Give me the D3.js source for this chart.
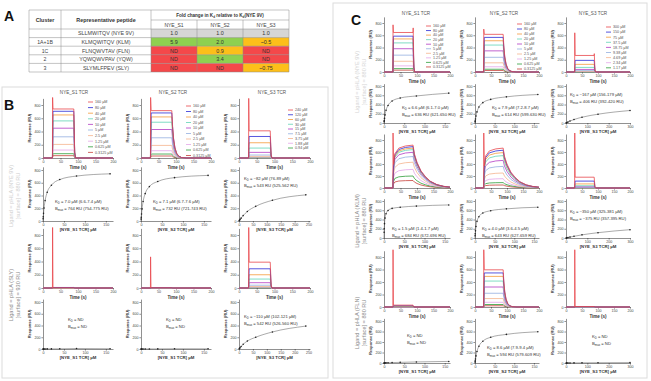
<!DOCTYPE html>
<html><head><meta charset="utf-8">
<script src="https://cdn.jsdelivr.net/npm/d3@7"></script>
<style>body{margin:0;background:#fff}svg{display:block;font-family:"Liberation Sans",Arial,sans-serif}</style>
</head><body><svg id="c" width="651" height="381"></svg>
<script>
// ---------- DATA ----------
// Table (panel A)
const tcrNames = ["NYE_S1", "NYE_S2", "NYE_S3"];
const clusters = ["", "1A+1B", "1C", "2", "3"];
const peptides = ["SLLMWITQV (NYE 9V)", "KLMQWITQV (KLM)", "FLNQWVTAV (FLN)", "YQWQWVPAV (YQW)", "SLYMLFPEV (SLY)"];
const foldS1 = ["1.0", "5.9", "ND", "ND", "ND"];
const foldS2 = ["1.0", "2.0", "0.9", "3.4", "ND"];
const foldS3 = ["1.0", "~0.5", "ND", "ND", "~0.75"];

// Concentrations
const concS12 = [160, 80, 40, 20, 10, 5, 2.5, 1.25, 0.625, 0.3125];
const concS12Labels = ["160 µM", "80 µM", "40 µM", "20 µM", "10 µM", "5 µM", "2.5 µM", "1.25 µM", "0.625 µM", "0.3125 µM"];
const concS3B = [240, 120, 60, 30, 15, 7.5, 3.75, 1.88, 0.94];
const concS3BLabels = ["240 µM", "120 µM", "60 µM", "30 µM", "15 µM", "7.5 µM", "3.75 µM", "1.88 µM", "0.94 µM"];
const concS3C = [300, 150, 75, 37.5, 18.75, 9.38, 4.69, 2.34, 1.17];
const concS3CLabels = ["300 µM", "150 µM", "75 µM", "37.5 µM", "18.75 µM", "9.38 µM", "4.69 µM", "2.34 µM", "1.17 µM"];

const bNyeS1 = [740, 705, 650, 560, 450, 320, 205, 120, 65, 35];
const bNyeS2 = [715, 680, 620, 540, 430, 305, 190, 110, 60, 30];
const bNyeS3 = [410, 325, 230, 150, 85, 45, 25, 12, 6];
const bSlyS1 = [4, 8, 3, 2, 2, 1, 1, 0, 0, 0];
const bSlyS2 = [3, 4, 2, 1, 1, 0, 0, 0, 0, 0];
const bSlyS3 = [390, 290, 200, 135, 80, 42, 22, 11, 5];
const cNyeS1 = [645, 585, 540, 475, 380, 275, 175, 100, 55, 30];
const cNyeS2 = [615, 565, 510, 440, 345, 240, 150, 85, 45, 25];
const cNyeS3 = [270, 190, 125, 75, 42, 22, 11, 6, 3];
const cKlmS1 = [715, 690, 665, 640, 595, 525, 430, 310, 200, 125];
const cKlmS2 = [665, 630, 590, 540, 460, 360, 250, 155, 90, 50];
const cKlmS3 = [180, 115, 68, 37, 20, 10, 5, 3, 1];
const cFlnS1 = [30, 20, 12, 8, 5, 3, 2, 1, 0, 0];
const cFlnS2 = [595, 545, 490, 415, 320, 220, 135, 75, 40, 20];
const cFlnS3 = [8, 5, 3, 2, 1, 1, 0, 0, 0];

// Sensorgram time profiles (fraction of plateau)
const fastT = [0, 27, 28.5, 88, 90.5, 93, 200];
const fastF = [0, 0, 1, 1, 0.12, 0, 0];
const medT = [0, 27, 29, 88, 90, 93, 97, 102, 108, 116, 130, 200];
const medF = [0, 0, 1, 1, 0.7, 0.42, 0.22, 0.1, 0.04, 0.01, 0, 0];
const slowT = [0, 27, 29, 33, 45, 65, 88, 92, 100, 112, 125, 140, 160, 180, 200];
const slowF = [0, 0, 0.55, 0.8, 0.93, 0.98, 1, 0.8, 0.6, 0.4, 0.27, 0.16, 0.08, 0.04, 0.02];

// Fit results
const kdB = ["7.0 µM (6.6-7.4 µM)", "7.1 µM (6.7-7.6 µM)", "~82 µM (76-89 µM)", "ND", "ND", "~110 µM (102-121 µM)"];
const bmaxB = ["764 RU (754-775 RU)", "732 RU (721-743 RU)", "543 RU (525-562 RU)", "ND", "ND", "542 RU (526-560 RU)"];
const kdC = ["6.6 µM (6.1-7.0 µM)", "7.9 µM (7.2-8.7 µM)", "~167 µM (156-179 µM)", "1.5 µM (1.4-1.7 µM)", "4.0 µM (3.6-4.5 µM)", "~350 µM (325-381 µM)", "ND", "8.6 µM (7.9-9.4 µM)", "ND"];
const bmaxC = ["636 RU (621-650 RU)", "614 RU (599-630 RU)", "406 RU (392-420 RU)", "684 RU (672-696 RU)", "643 RU (627-659 RU)", "~375 RU (357-395 RU)", "ND", "594 RU (579-609 RU)", "ND"];

const seriesColors = ["#e8474c", "#2b2bd6", "#f59a3a", "#5fd3b5", "#b23bc4", "#93aee0", "#f5b48e", "#e3a6e8", "#2e9e3a", "#c8413a"];

// ---------- DRAW ----------
const svg = d3.select('#c');
const profs = {fast: [fastT, fastF], med: [medT, medF], slow: [slowT, slowF]};
let clipN = 0;

function styleAxis(a) {
  a.attr('font-size', 3.6).attr('font-family', null);
  a.selectAll('path,line').attr('stroke', '#222').attr('stroke-width', 0.5);
  a.selectAll('text').attr('fill', '#444');
}
function axes(g, x, y, xt, yt) {
  const ax = g.append('g').attr('transform', `translate(0,${y.range()[0]})`)
    .call(d3.axisBottom(x).tickValues(xt).tickSize(1.6).tickSizeOuter(0).tickPadding(1));
  const ay = g.append('g').attr('transform', `translate(${x.range()[0]},0)`)
    .call(d3.axisLeft(y).tickValues(yt).tickSize(1.6).tickSizeOuter(0).tickPadding(1));
  styleAxis(ax); styleAxis(ay);
}
function ylabel(g, x, y0, y1) {
  g.append('text').attr('transform', `translate(${x},${(y0 + y1) / 2}) rotate(-90)`)
    .attr('text-anchor', 'middle').attr('font-size', 4).attr('font-weight', 'bold').attr('fill', '#333').text('Response (RU)');
}

function sens(L, D) {
  const yTop = L.y0 - (L.y0 - L.y8) * 900 / 800;
  const x = d3.scaleLinear().domain([0, 200]).range([L.x0, L.x1]);
  const y = d3.scaleLinear().domain([0, 900]).range([L.y0, yTop]);
  const g = svg.append('g');
  axes(g, x, y, [0, 50, 100, 150, 200], [0, 200, 400, 600, 800]);
  const id = 'clip' + (clipN++);
  svg.append('clipPath').attr('id', id).append('rect')
    .attr('x', L.x0).attr('y', yTop - 1).attr('width', L.x1 - L.x0).attr('height', L.y0 - yTop + 2);
  const [pt, pf] = profs[D.prof];
  const series = D.levels.map((lv, i) => {
    const pts = [];
    pt.forEach((t, k) => {
      pts.push([t, pf[k] * lv]);
      if (i === 0 && t === 27) pts.push([27.4, D.spike]);
      if (i === 0 && t === 88 && D.spikeEnd) pts.push([88.4, D.spikeEnd]);
    });
    return {pts, i};
  });
  const line = d3.line().x(d => x(d[0])).y(d => y(d[1]));
  g.append('g').attr('clip-path', `url(#${id})`).selectAll('path').data(series.slice().reverse()).join('path')
    .attr('d', d => line(d.pts)).attr('fill', 'none').attr('stroke', d => seriesColors[d.i]).attr('stroke-width', 0.8);
  ylabel(g, L.x0 - 12, L.y0, yTop);
  g.append('text').attr('x', (L.x0 + L.x1) / 2).attr('y', L.y0 + 10.5).attr('text-anchor', 'middle')
    .attr('font-size', 4.5).attr('font-weight', 'bold').attr('fill', '#333').text('Time (s)');
  if (D.title) {
    g.append('text').attr('x', D.title[1]).attr('y', D.title[2]).attr('text-anchor', 'middle')
      .attr('font-size', 4.6).attr('fill', '#555').text(D.title[0]);
  }
  if (D.legend) {
    const lg = D.legend;
    D.labels.forEach((lab, i) => {
      const yy = lg.y + i * lg.step;
      g.append('line').attr('x1', lg.x).attr('x2', lg.x + 5).attr('y1', yy).attr('y2', yy)
        .attr('stroke', seriesColors[i]).attr('stroke-width', 0.8);
      g.append('text').attr('x', lg.x + 7).attr('y', yy + 1.3).attr('font-size', 3.7).attr('fill', '#555').text(lab);
    });
  }
}

function kdText(g, x, y, kd, bm) {
  const t1 = g.append('text').attr('x', x).attr('y', y).attr('font-size', 4.2).attr('fill', '#333');
  t1.append('tspan').text('K');
  t1.append('tspan').attr('font-size', 2.8).attr('dy', 1).text('D');
  t1.append('tspan').attr('dy', -1).text(' = ' + kd);
  const t2 = g.append('text').attr('x', x).attr('y', y + 6.5).attr('font-size', 4.2).attr('fill', '#333');
  t2.append('tspan').text('B');
  t2.append('tspan').attr('font-size', 2.8).attr('dy', 1).text('max');
  t2.append('tspan').attr('dy', -1).text(' = ' + bm);
}

function bind(L, D) {
  const yTop = L.y0 - (L.y0 - L.y8) * 850 / 800;
  const x = d3.scaleLinear().domain([0, D.xmax]).range([L.x0, L.x1]);
  const y = d3.scaleLinear().domain([0, 850]).range([L.y0, yTop]);
  const g = svg.append('g');
  axes(g, x, y, D.xt, [0, 200, 400, 600, 800]);
  const pts = D.conc.map((c, i) => [c, D.resp[i]]).sort((a, b) => a[0] - b[0]);
  const line = d3.line().x(d => x(d[0])).y(d => y(d[1])).curve(d3.curveMonotoneX);
  g.append('path').attr('d', line([[0, 0]].concat(pts))).attr('fill', 'none').attr('stroke', '#444').attr('stroke-width', 0.45);
  g.selectAll('circle').data(pts).join('circle').attr('cx', d => x(d[0])).attr('cy', d => y(d[1]))
    .attr('r', 0.8).attr('fill', '#222');
  ylabel(g, L.x0 - 12, L.y0, yTop);
  g.append('text').attr('x', (L.x0 + L.x1) / 2).attr('y', L.y0 + 10).attr('text-anchor', 'middle')
    .attr('font-size', 4.3).attr('font-weight', 'bold').attr('fill', '#333').text(D.xlab);
  kdText(g, D.tx, D.ty, D.kd, D.bm);
}

function ligand(cx, cy, l1, l2, color) {
  const g = svg.append('g').attr('transform', `translate(${cx},${cy}) rotate(-90)`);
  g.append('text').attr('y', -2.5).attr('text-anchor', 'middle').attr('font-size', 5.6).attr('fill', color).text(l1);
  g.append('text').attr('y', 4.5).attr('text-anchor', 'middle').attr('font-size', 5.6).attr('fill', color).text(l2);
}

// Frames
svg.append('rect').attr('x', 2).attr('y', 87).attr('width', 326).attr('height', 291)
  .attr('fill', 'none').attr('stroke', '#dcdcdc').attr('stroke-width', 1);
svg.append('rect').attr('x', 333).attr('y', 3).attr('width', 314).attr('height', 375)
  .attr('fill', 'none').attr('stroke', '#dcdcdc').attr('stroke-width', 1);

// Panel letters
[["A", 4, 21], ["B", 4, 110], ["C", 351, 25]].forEach(([t, x, y]) =>
  svg.append('text').attr('x', x).attr('y', y).attr('font-size', 14).attr('font-weight', 'bold').attr('fill', '#111').text(t));

// ---------- Table ----------
(function table() {
  const colX = [29, 61, 151, 197, 243, 289];
  const rowY = [10, 20, 29, 37.6, 46.2, 54.8, 63.4, 72];
  const g = svg.append('g');
  const colorOf = v => v === 'ND' ? '#f4484a' : (v === '1.0' ? '#d6d6d6' : (v.startsWith('~') || parseFloat(v) < 1 ? '#fdbf1a' : '#8fd050'));
  const folds = [foldS1, foldS2, foldS3];
  for (let r = 0; r < 5; r++) {
    for (let c = 0; c < 3; c++) {
      const v = folds[c][r];
      g.append('rect').attr('x', colX[2 + c]).attr('y', rowY[2 + r]).attr('width', colX[3 + c] - colX[2 + c])
        .attr('height', rowY[3 + r] - rowY[2 + r]).attr('fill', colorOf(v));
      g.append('text').attr('x', (colX[2 + c] + colX[3 + c]) / 2).attr('y', rowY[2 + r] + 6.3).attr('text-anchor', 'middle')
        .attr('font-size', 5.4).attr('fill', '#333').text(v);
    }
    g.append('text').attr('x', (colX[0] + colX[1]) / 2).attr('y', rowY[2 + r] + 6.3).attr('text-anchor', 'middle')
      .attr('font-size', 5.2).attr('fill', '#444').text(clusters[r]);
    g.append('text').attr('x', (colX[1] + colX[2]) / 2).attr('y', rowY[2 + r] + 6.3).attr('text-anchor', 'middle')
      .attr('font-size', 5.4).attr('fill', '#444').text(peptides[r]);
  }
  const ln = (x1, y1, x2, y2) => g.append('line').attr('x1', x1).attr('y1', y1).attr('x2', x2).attr('y2', y2)
    .attr('stroke', '#888').attr('stroke-width', 0.5);
  rowY.forEach((yy, i) => { if (i === 1) ln(colX[2], yy, colX[5], yy); else ln(colX[0], yy, colX[5], yy); });
  colX.forEach((xx, i) => { if (i === 3 || i === 4) ln(xx, rowY[1], xx, rowY[7]); else ln(xx, rowY[0], xx, rowY[7]); });
  g.append('text').attr('x', (colX[0] + colX[1]) / 2).attr('y', 21.5).attr('text-anchor', 'middle')
    .attr('font-size', 5.4).attr('font-weight', 'bold').attr('fill', '#333').text('Cluster');
  g.append('text').attr('x', (colX[1] + colX[2]) / 2).attr('y', 21.5).attr('text-anchor', 'middle')
    .attr('font-size', 5.4).attr('font-weight', 'bold').attr('fill', '#333').text('Representative peptide');
  const h = g.append('text').attr('x', (colX[2] + colX[5]) / 2).attr('y', 16.8).attr('text-anchor', 'middle')
    .attr('font-size', 4.6).attr('font-weight', 'bold').attr('fill', '#333');
  h.append('tspan').text('Fold change in K');
  h.append('tspan').attr('font-size', 3).attr('dy', 1).text('d');
  h.append('tspan').attr('dy', -1).text(' relative to K');
  h.append('tspan').attr('font-size', 3).attr('dy', 1).text('d');
  h.append('tspan').attr('dy', -1).text('(NYE 9V)');
  tcrNames.forEach((n, i) => g.append('text').attr('x', (colX[2 + i] + colX[3 + i]) / 2).attr('y', 26.8)
    .attr('text-anchor', 'middle').attr('font-size', 5).attr('fill', '#444').text(n));
})();

// ---------- Panel B ----------
const BC = [{x0: 43, x1: 113}, {x0: 141, x1: 211}, {x0: 239, x1: 310}];
const BR = [{y0: 158, y8: 105}, {y0: 221, y8: 170}, {y0: 288, y8: 235}, {y0: 349, y8: 302}];
const L = (c, r) => Object.assign({}, c, r);

sens(L(BC[0], BR[0]), {levels: bNyeS1, prof: 'fast', spike: 930, labels: concS12Labels, legend: {x: 88, y: 102, step: 5.6}, title: ['NYE_S1 TCR', 74, 94]});
sens(L(BC[1], BR[0]), {levels: bNyeS2, prof: 'med', spike: 930, labels: concS12Labels, legend: {x: 186, y: 106, step: 5.5}, title: ['NYE_S2 TCR', 173, 94]});
sens(L(BC[2], BR[0]), {levels: bNyeS3, prof: 'fast', spike: 900, labels: concS3BLabels, legend: {x: 288, y: 110, step: 4.75}, title: ['NYE_S3 TCR', 272, 94]});
bind(L(BC[0], BR[1]), {conc: concS12, resp: bNyeS1, xmax: 167, xt: [0, 50, 100, 150], xlab: '[NYE_S1 TCR] µM', kd: kdB[0], bm: bmaxB[0], tx: 55, ty: 203});
bind(L(BC[1], BR[1]), {conc: concS12, resp: bNyeS2, xmax: 167, xt: [0, 50, 100, 150], xlab: '[NYE_S2 TCR] µM', kd: kdB[1], bm: bmaxB[1], tx: 153, ty: 203});
bind(L(BC[2], BR[1]), {conc: concS3B, resp: bNyeS3, xmax: 255, xt: [0, 50, 100, 150, 200, 250], xlab: '[NYE_S3 TCR] µM', kd: kdB[2], bm: bmaxB[2], tx: 244, ty: 180});
sens(L(BC[0], BR[2]), {levels: bSlyS1, prof: 'fast', spike: 930});
sens(L(BC[1], BR[2]), {levels: bSlyS2, prof: 'fast', spike: 470});
sens(L(BC[2], BR[2]), {levels: bSlyS3, prof: 'fast', spike: 930});
bind(L(BC[0], BR[3]), {conc: concS12, resp: bSlyS1, xmax: 167, xt: [0, 50, 100, 150], xlab: '[NYE_S1 TCR] µM', kd: kdB[3], bm: bmaxB[3], tx: 68, ty: 321});
bind(L(BC[1], BR[3]), {conc: concS12, resp: bSlyS2, xmax: 167, xt: [0, 50, 100, 150], xlab: '[NYE_S1 TCR] µM', kd: kdB[4], bm: bmaxB[4], tx: 166, ty: 321});
bind(L(BC[2], BR[3]), {conc: concS3B, resp: bSlyS3, xmax: 255, xt: [0, 50, 100, 150, 200, 250], xlab: '[NYE_S3 TCR] µM', kd: kdB[5], bm: bmaxB[5], tx: 244, ty: 318});
ligand(15, 196, 'Ligand = pHLA (NYE 9V)', '[surface] = 880 RU', '#cfcfcf');
ligand(15, 295, 'Ligand = pHLA (SLY)', '[surface] = 930 RU', '#8a8a8a');

// ---------- Panel C ----------
const CC = [{x0: 384, x1: 450}, {x0: 475, x1: 539}, {x0: 566, x1: 630}];
const CR = [{y0: 72, y8: 23}, {y0: 123, y8: 86}, {y0: 188, y8: 140}, {y0: 238, y8: 201}, {y0: 307, y8: 257}, {y0: 363, y8: 321}];

sens(L(CC[0], CR[0]), {levels: cNyeS1, prof: 'fast', spike: 770, spikeEnd: 720, labels: concS12Labels, legend: {x: 426, y: 26, step: 4.55}, title: ['NYE_S1 TCR', 416, 15]});
sens(L(CC[1], CR[0]), {levels: cNyeS2, prof: 'med', spike: 700, labels: concS12Labels, legend: {x: 517, y: 24, step: 5}, title: ['NYE_S2 TCR', 504, 15]});
sens(L(CC[2], CR[0]), {levels: cNyeS3, prof: 'fast', spike: 640, spikeEnd: 300, labels: concS3CLabels, legend: {x: 606, y: 27, step: 5.1}, title: ['NYE_S3 TCR', 593, 15]});
bind(L(CC[0], CR[1]), {conc: concS12, resp: cNyeS1, xmax: 163, xt: [0, 50, 100, 150], xlab: '[NYE_S1 TCR] µM', kd: kdC[0], bm: bmaxC[0], tx: 402, ty: 109});
bind(L(CC[1], CR[1]), {conc: concS12, resp: cNyeS2, xmax: 163, xt: [0, 50, 100, 150], xlab: '[NYE_S2 TCR] µM', kd: kdC[1], bm: bmaxC[1], tx: 492, ty: 109});
bind(L(CC[2], CR[1]), {conc: concS3C, resp: cNyeS3, xmax: 300, xt: [0, 100, 200, 300], xlab: '[NYE_S3 TCR] µM', kd: kdC[2], bm: bmaxC[2], tx: 570, ty: 96});
sens(L(CC[0], CR[2]), {levels: cKlmS1, prof: 'slow', spike: 930});
sens(L(CC[1], CR[2]), {levels: cKlmS2, prof: 'slow', spike: 930});
sens(L(CC[2], CR[2]), {levels: cKlmS3, prof: 'fast', spike: 930});
bind(L(CC[0], CR[3]), {conc: concS12, resp: cKlmS1, xmax: 163, xt: [0, 50, 100, 150], xlab: '[NYE_S1 TCR] µM', kd: kdC[3], bm: bmaxC[3], tx: 392, ty: 230});
bind(L(CC[1], CR[3]), {conc: concS12, resp: cKlmS2, xmax: 163, xt: [0, 50, 100, 150], xlab: '[NYE_S2 TCR] µM', kd: kdC[4], bm: bmaxC[4], tx: 482, ty: 230});
bind(L(CC[2], CR[3]), {conc: concS3C, resp: cKlmS3, xmax: 300, xt: [0, 100, 200, 300], xlab: '[NYE_S3 TCR] µM', kd: kdC[5], bm: bmaxC[5], tx: 570, ty: 213});
sens(L(CC[0], CR[4]), {levels: cFlnS1, prof: 'fast', spike: 930});
sens(L(CC[1], CR[4]), {levels: cFlnS2, prof: 'med', spike: 930});
sens(L(CC[2], CR[4]), {levels: cFlnS3, prof: 'fast', spike: 930});
bind(L(CC[0], CR[5]), {conc: concS12, resp: cFlnS1, xmax: 163, xt: [0, 50, 100, 150], xlab: '[NYE_S1 TCR] µM', kd: kdC[6], bm: bmaxC[6], tx: 407, ty: 337});
bind(L(CC[1], CR[5]), {conc: concS12, resp: cFlnS2, xmax: 163, xt: [0, 50, 100, 150], xlab: '[NYE_S2 TCR] µM', kd: kdC[7], bm: bmaxC[7], tx: 487, ty: 349});
bind(L(CC[2], CR[5]), {conc: concS3C, resp: cFlnS3, xmax: 300, xt: [0, 100, 200, 300], xlab: '[NYE_S3 TCR] µM', kd: kdC[8], bm: bmaxC[8], tx: 592, ty: 338});
ligand(361, 82, 'Ligand = pHLA (NYE 9V)', '[surface] = 880 RU', '#d5d5d5');
ligand(361, 221, 'Ligand = pHLA (KLM)', '[surface] = 880 RU', '#8a8a8a');
ligand(361, 323, 'Ligand = pHLA (FLN)', '[surface] = 880 RU', '#8a8a8a');
</script></body></html>
